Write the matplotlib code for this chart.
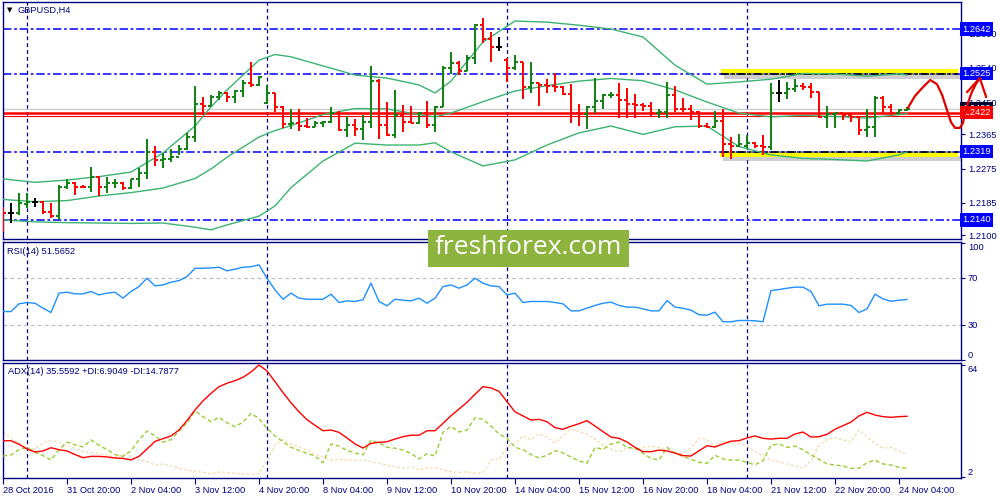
import numpy as np
import matplotlib.pyplot as plt
from matplotlib.patches import Rectangle

# GBPUSD H4 bars (bar 0 = first bar on the left)
opens = [1.2169, 1.2158, 1.2158, 1.2182, 1.2188, 1.2188, 1.2162, 1.2150, 1.2227, 1.2236,
         1.2227, 1.2226, 1.2254, 1.2227, 1.2236, 1.2238, 1.2223, 1.2249, 1.2263, 1.2319,
         1.2298, 1.2299, 1.2306, 1.2326, 1.2359, 1.2444, 1.2439, 1.2464, 1.2474, 1.2464,
         1.2480, 1.2501, 1.2495, 1.2447, 1.2474, 1.2438, 1.2391, 1.2394, 1.2387, 1.2384,
         1.2396, 1.2397, 1.2420, 1.2376, 1.2390, 1.2378, 1.2398, 1.2505, 1.2390, 1.2363,
         1.2416, 1.2398, 1.2396, 1.2420, 1.2390, 1.2438, 1.2539, 1.2553, 1.2532, 1.2565,
         1.2652, 1.2617, 1.2595, 1.2560, 1.2539, 1.2556, 1.2489, 1.2499, 1.2495, 1.2492,
         1.2489, 1.2471, 1.2420, 1.2418, 1.2436, 1.2453, 1.2468, 1.2469, 1.2455, 1.2445,
         1.2443, 1.2439, 1.2422, 1.2424, 1.2468, 1.2433, 1.2431, 1.2424, 1.2387, 1.2385,
         1.2401, 1.2340, 1.2334, 1.2335, 1.2343, 1.2335, 1.2332, 1.2474, 1.2474, 1.2483,
         1.2492, 1.2489, 1.2477, 1.2410, 1.2418, 1.2420, 1.2416, 1.2411, 1.2376, 1.2385,
         1.2460, 1.2436, 1.2420, 1.2429]
highs = [1.2175, 1.2184, 1.2211, 1.2212, 1.2197, 1.2190, 1.2184, 1.2232, 1.2249, 1.2240,
         1.2232, 1.2280, 1.2256, 1.2254, 1.2247, 1.2240, 1.2249, 1.2276, 1.2353, 1.2334,
         1.2315, 1.2326, 1.2337, 1.2368, 1.2492, 1.2462, 1.2468, 1.2480, 1.2477, 1.2482,
         1.2508, 1.2555, 1.2518, 1.2495, 1.2474, 1.2439, 1.2432, 1.2433, 1.2407, 1.2401,
         1.2401, 1.2436, 1.2427, 1.2414, 1.2405, 1.2416, 1.2545, 1.2510, 1.2451, 1.2482,
         1.2442, 1.2439, 1.2425, 1.2453, 1.2439, 1.2545, 1.2581, 1.2558, 1.2574, 1.2655,
         1.2670, 1.2635, 1.2620, 1.2567, 1.2574, 1.2556, 1.2556, 1.2499, 1.2510, 1.2527,
         1.2492, 1.2497, 1.2445, 1.2439, 1.2512, 1.2471, 1.2477, 1.2499, 1.2486, 1.2471,
         1.2447, 1.2451, 1.2433, 1.2502, 1.2492, 1.2460, 1.2442, 1.2426, 1.2394, 1.2427,
         1.2433, 1.2357, 1.2366, 1.2363, 1.2346, 1.2363, 1.2499, 1.2508, 1.2503, 1.2510,
         1.2499, 1.2501, 1.2477, 1.2439, 1.2422, 1.2420, 1.2420, 1.2411, 1.2433, 1.2466,
         1.2466, 1.2445, 1.2433, 1.2436]
lows = [1.2109, 1.2133, 1.2153, 1.2171, 1.2175, 1.2155, 1.2146, 1.2140, 1.2221, 1.2206,
        1.2223, 1.2213, 1.2203, 1.2210, 1.2223, 1.2219, 1.2221, 1.2227, 1.2249, 1.2283,
        1.2276, 1.2293, 1.2311, 1.2324, 1.2346, 1.2416, 1.2439, 1.2455, 1.2449, 1.2447,
        1.2464, 1.2489, 1.2492, 1.2445, 1.2424, 1.2381, 1.2378, 1.2375, 1.2381, 1.2384,
        1.2384, 1.2394, 1.2375, 1.2357, 1.2361, 1.2350, 1.2382, 1.2352, 1.2361, 1.2355,
        1.2372, 1.2394, 1.2392, 1.2381, 1.2372, 1.2436, 1.2524, 1.2521, 1.2532, 1.2550,
        1.2604, 1.2556, 1.2585, 1.2503, 1.2534, 1.2458, 1.2474, 1.2439, 1.2474, 1.2477,
        1.2468, 1.2394, 1.2387, 1.2378, 1.2422, 1.2433, 1.2460, 1.2407, 1.2407, 1.2407,
        1.2427, 1.2411, 1.2407, 1.2407, 1.2424, 1.2424, 1.2403, 1.2381, 1.2381, 1.2381,
        1.2305, 1.2299, 1.2333, 1.2328, 1.2328, 1.2311, 1.2324, 1.2451, 1.2457, 1.2477,
        1.2482, 1.2460, 1.2407, 1.2381, 1.2381, 1.2403, 1.2398, 1.2363, 1.2357, 1.2359,
        1.2418, 1.2416, 1.2420, 1.2427]
closes = [1.2158, 1.2158, 1.2185, 1.2188, 1.2188, 1.2162, 1.2150, 1.2227, 1.2236, 1.2227,
          1.2226, 1.2254, 1.2227, 1.2236, 1.2238, 1.2223, 1.2249, 1.2263, 1.2319, 1.2298,
          1.2299, 1.2306, 1.2326, 1.2359, 1.2444, 1.2439, 1.2464, 1.2474, 1.2464, 1.2480,
          1.2501, 1.2495, 1.2516, 1.2474, 1.2438, 1.2391, 1.2394, 1.2387, 1.2384, 1.2396,
          1.2397, 1.2420, 1.2376, 1.2390, 1.2378, 1.2398, 1.2505, 1.2390, 1.2363, 1.2416,
          1.2398, 1.2396, 1.2420, 1.2390, 1.2438, 1.2539, 1.2553, 1.2532, 1.2565, 1.2652,
          1.2617, 1.2595, 1.2595, 1.2539, 1.2556, 1.2489, 1.2499, 1.2495, 1.2492, 1.2489,
          1.2471, 1.2420, 1.2418, 1.2436, 1.2453, 1.2468, 1.2469, 1.2455, 1.2445, 1.2443,
          1.2439, 1.2422, 1.2424, 1.2468, 1.2433, 1.2431, 1.2424, 1.2387, 1.2385, 1.2401,
          1.2340, 1.2334, 1.2341, 1.2343, 1.2335, 1.2332, 1.2474, 1.2474, 1.2483, 1.2492,
          1.2489, 1.2477, 1.2410, 1.2418, 1.2420, 1.2416, 1.2411, 1.2376, 1.2385, 1.2460,
          1.2436, 1.2420, 1.2429, 1.2433]

# Bollinger bands, sampled at these bar positions
band_idx = [0, 4, 8, 12, 16, 20, 24, 26, 28, 32, 34, 36, 40, 44, 48, 52, 54, 56, 60, 64,
            68, 72, 76, 80, 84, 88, 92, 96, 100, 104, 108, 112, 113]
band_upper = [1.2248, 1.2239, 1.2245, 1.2254, 1.2266, 1.2316, 1.2387, 1.2437, 1.2482, 1.2560,
              1.2575, 1.2569, 1.2545, 1.2521, 1.2513, 1.2495, 1.2474, 1.2505, 1.2608, 1.2663,
              1.2660, 1.2652, 1.2642, 1.2621, 1.2547, 1.2497, 1.2503, 1.2510, 1.2525, 1.2524,
              1.2518, 1.2524, 1.2521]
band_mid = [1.2194, 1.2188, 1.2191, 1.2203, 1.2212, 1.2224, 1.2249, 1.2274, 1.2305, 1.2358,
            1.2375, 1.2388, 1.2417, 1.2433, 1.2432, 1.2417, 1.2411, 1.2421, 1.2451, 1.2479,
            1.2493, 1.2505, 1.2512, 1.2506, 1.2482, 1.2450, 1.2421, 1.2411, 1.2415, 1.2412,
            1.2408, 1.2417, 1.2420]
band_lower = [1.2140, 1.2135, 1.2133, 1.2132, 1.2131, 1.2132, 1.2121, 1.2114, 1.2127, 1.2150,
              1.2177, 1.2225, 1.2295, 1.2342, 1.2337, 1.2337, 1.2343, 1.2319, 1.2282, 1.2298,
              1.2337, 1.2369, 1.2387, 1.2365, 1.2385, 1.2387, 1.2333, 1.2311, 1.2302, 1.2299,
              1.2295, 1.2311, 1.2319]

rsi = [41.3, 41.3, 47.9, 49.0, 48.4, 44.2, 40.5, 57.0, 57.8, 56.4,
       56.4, 58.4, 55.5, 57.0, 57.8, 52.7, 58.4, 62.6, 69.7, 63.2,
       64.0, 66.3, 67.7, 71.1, 78.2, 78.2, 78.5, 79.1, 76.0, 77.4,
       79.1, 79.5, 81.1, 69.7, 59.8, 51.8, 57.0, 52.7, 51.8, 51.8,
       51.8, 56.1, 49.0, 50.4, 49.9, 51.3, 65.5, 49.9, 46.2, 51.8,
       51.0, 50.4, 52.7, 48.4, 52.7, 62.6, 64.0, 61.2, 64.0, 69.7,
       65.5, 63.2, 62.6, 55.5, 57.0, 49.0, 49.9, 49.9, 49.9, 49.0,
       47.9, 41.9, 41.9, 44.2, 46.5, 48.4, 49.3, 46.5, 45.1, 45.1,
       43.6, 41.9, 41.9, 50.7, 45.1, 44.1, 42.5, 38.6, 38.2, 40.8,
       32.6, 32.6, 33.7, 33.7, 33.4, 32.6, 59.2, 60.1, 61.2, 62.1,
       62.1, 58.4, 46.2, 47.6, 47.6, 47.6, 46.5, 40.5, 43.6, 56.1,
       52.1, 50.1, 51.0, 51.6]

adx = [22.1, 22.1, 20.1, 17.5, 15.8, 16.4, 18.2, 17.1, 16.4, 14.4,
       12.7, 13.4, 13.4, 13.1, 12.5, 12.3, 11.4, 13.4, 17.5, 21.7,
       23.2, 24.7, 28.0, 33.2, 39.1, 44.1, 48.3, 52.0, 53.9, 55.3,
       57.2, 60.1, 64.0, 60.7, 54.8, 48.7, 43.1, 38.1, 33.7, 30.6,
       27.6, 28.0, 26.7, 23.6, 20.3, 18.0, 20.6, 21.2, 21.5, 23.0,
       24.3, 25.1, 25.1, 27.6, 27.6, 31.7, 35.9, 39.6, 43.3, 47.8,
       52.0, 51.3, 49.4, 43.7, 38.1, 35.8, 33.5, 33.9, 32.6, 29.3,
       28.4, 30.1, 31.5, 33.2, 30.2, 27.1, 24.1, 23.4, 21.4, 18.4,
       16.0, 16.0, 16.9, 16.4, 15.3, 13.8, 13.6, 16.5, 19.3, 18.6,
       20.3, 21.8, 22.1, 23.6, 24.7, 23.4, 23.0, 23.4, 23.4, 25.8,
       26.9, 24.1, 24.3, 25.6, 28.4, 30.4, 32.4, 35.8, 37.8, 36.3,
       35.4, 35.0, 35.4, 35.6]
plus_di = [13.6, 14.2, 17.1, 18.4, 15.6, 13.8, 11.4, 17.1, 21.3, 19.8,
           18.6, 22.5, 19.6, 17.1, 14.4, 13.4, 16.5, 22.5, 27.4, 24.8,
           21.3, 22.6, 27.4, 32.0, 38.5, 35.4, 32.6, 35.0, 32.0, 29.8,
           32.4, 37.2, 34.3, 28.9, 24.7, 21.5, 18.4, 16.7, 15.1, 13.6,
           9.9, 20.3, 19.1, 16.7, 15.3, 14.2, 22.5, 20.8, 18.4, 17.9,
           16.9, 15.0, 12.0, 14.8, 13.6, 26.7, 30.0, 26.9, 28.0, 34.8,
           33.9, 30.2, 25.8, 23.4, 18.4, 17.1, 14.4, 12.5, 14.0, 16.5,
           15.4, 12.9, 11.0, 9.6, 18.4, 17.3, 20.3, 21.3, 18.4, 17.9,
           15.1, 12.3, 11.4, 18.4, 15.1, 13.4, 11.8, 10.1, 9.6, 14.0,
           12.0, 11.4, 11.4, 10.1, 8.8, 11.0, 19.6, 20.3, 18.4, 19.1,
           17.1, 14.2, 11.8, 9.2, 8.6, 8.1, 6.8, 6.8, 9.9, 11.4,
           9.2, 8.6, 7.3, 6.9]
minus_di = [27.1, 23.8, 20.9, 18.4, 17.3, 20.8, 22.3, 20.9, 19.1, 17.9,
            16.0, 15.4, 15.1, 14.2, 12.9, 14.6, 13.4, 11.4, 10.5, 8.6,
            9.2, 8.1, 6.8, 5.9, 5.3, 4.6, 3.8, 4.8, 4.4, 4.0,
            3.6, 3.3, 3.8, 11.4, 19.8, 22.8, 20.3, 18.4, 17.1, 14.4,
            13.4, 11.4, 11.8, 11.4, 11.0, 11.4, 10.5, 9.6, 8.6, 7.7,
            6.8, 7.7, 5.9, 6.8, 7.3, 5.9, 4.9, 4.4, 4.9, 4.0,
            4.4, 11.4, 11.8, 18.4, 20.6, 24.7, 22.6, 26.1, 23.8, 20.9,
            25.0, 28.5, 27.3, 25.5, 23.1, 19.8, 17.3, 16.0, 18.0, 17.3,
            18.4, 19.1, 18.4, 16.9, 14.6, 15.1, 18.0, 23.6, 22.8, 19.0,
            21.7, 21.1, 20.5, 19.0, 16.2, 13.8, 11.4, 10.5, 9.2, 8.1,
            6.8, 11.0, 19.6, 22.5, 23.8, 22.5, 21.5, 28.0, 24.3, 20.6,
            17.9, 18.4, 16.2, 14.8]

# horizontal levels and tags
blue_levels = [1.2642, 1.2525, 1.2319, 1.2140]
red_level = 1.2422
red_thin_level = 1.2414
bid_price = 1.2433
price_ticks = [1.2630, 1.2540, 1.2450, 1.2365, 1.2275, 1.2185, 1.2100]
separator_idx = [3, 33, 63, 93]
date_idx = [0, 8, 16, 24, 32, 40, 48, 56, 64, 72, 80, 88, 96, 104, 112]
date_labels = ['28 Oct 2016', '31 Oct 20:00', '2 Nov 04:00', '3 Nov 12:00', '4 Nov 20:00',
               '8 Nov 04:00', '9 Nov 12:00', '10 Nov 20:00', '14 Nov 04:00', '15 Nov 12:00',
               '16 Nov 20:00', '18 Nov 04:00', '21 Nov 12:00', '22 Nov 20:00', '24 Nov 04:00']
# range boxes drawn by hand (price bottom, price top, first bar, last bar)
range_boxes = [(1.2521, 1.2536, 89.75, 119.4), (1.2305, 1.2319, 89.6, 119.4)]
# freehand forecast squiggle (bar position, price)
squiggle_x = [113.1, 114.0, 114.9, 115.9, 116.75, 117.4, 118.0, 118.5, 119.0, 119.6,
              120.0, 120.25, 120.6, 121.1, 121.6, 122.1]
squiggle_y = [1.2434, 1.2466, 1.2487, 1.2508, 1.2497, 1.2468, 1.2429, 1.2397, 1.2382, 1.2382,
              1.2395, 1.2421, 1.2447, 1.2476, 1.2497, 1.2513]
arrow_x = [120.5, 122.1, 122.9]
arrow_y = [1.2476, 1.2513, 1.2463]

NAVY = '#000080'
GREEN = '#108010'
FONT = 'Liberation Sans'
FS = 6.7
plt.rcParams['font.family'] = FONT

fig = plt.figure(figsize=(10, 5), dpi=100)
fig.patch.set_facecolor('white')


def px_axes(x0, y0, x1, y1):
    return fig.add_axes([x0 / 1000, 1 - y1 / 500, (x1 - x0) / 1000, (y1 - y0) / 500])


ax = px_axes(3, 2, 961, 239)
ax_rsi = px_axes(3, 242, 961, 360)
ax_adx = px_axes(3, 363, 961, 478)

nbars = len(closes)
idx = np.arange(nbars)
for a in (ax, ax_rsi, ax_adx):
    a.set_xlim(0, 119.75)
    for s in a.spines.values():
        s.set_color(NAVY)
        s.set_linewidth(1)
    a.yaxis.tick_right()
    a.tick_params(axis='y', colors=NAVY, length=3, width=0.8, pad=2, labelsize=FS)
    a.tick_params(axis='x', length=0)
    a.set_xticks([])
    for s in separator_idx:
        a.axvline(s, color=NAVY, lw=0.9, ls=(0, (3, 2.5)), zorder=1)

# ---- main price panel
ax.set_ylim(1.2090, 1.2713)
ax.set_yticks(price_ticks)
ax.set_yticklabels(['%.4f' % t for t in price_ticks])

for lv in blue_levels:
    ax.axhline(lv, color='#0000ff', lw=1.1, ls=(0, (5.5, 1.8, 1.8, 1.8)), zorder=2)
ax.axhline(bid_price, color='#d0d0d0', lw=1, zorder=2)
ax.axhline(red_level, color='#ff0000', lw=1.8, zorder=2)
ax.axhline(red_thin_level, color='#ff0000', lw=0.8, zorder=2)

for lo, hi, x0, x1 in range_boxes:
    ax.add_patch(Rectangle((x0 + 0.4, lo - 0.0011), x1 - x0, hi - lo, fc='#909090',
                           ec='none', alpha=0.45, zorder=1.5, clip_on=False))
    ax.add_patch(Rectangle((x0, lo), x1 - x0, hi - lo, fc='#ffff00', ec='none',
                           zorder=1.8, clip_on=False))
ax.hlines([1.2525, 1.2319], 89.7, 119.4, colors='black', lw=1.1,
          linestyles=[(0, (5.5, 1.8, 1.8, 1.8))], zorder=2.1)

ax.plot(band_idx, band_upper, color='#3cb371', lw=1, zorder=3)
ax.plot(band_idx, band_mid, color='#3cb371', lw=1, zorder=3)
ax.plot(band_idx, band_lower, color='#3cb371', lw=1, zorder=3)

cols = [GREEN if c > o else '#ff0000' if c < o else '#000000' for o, c in zip(opens, closes)]
ax.vlines(idx, lows, highs, colors=cols, lw=1.4, zorder=4)
ax.hlines(opens, idx - 0.4, idx, colors=cols, lw=1.4, zorder=4)
ax.hlines(closes, idx, idx + 0.4, colors=cols, lw=1.4, zorder=4)

ytr = ax.get_yaxis_transform()
for lv in blue_levels:
    ax.text(1.0012, lv, '%.4f' % lv, transform=ytr, color='white', fontsize=FS,
            va='center', ha='left', zorder=10, clip_on=False,
            bbox=dict(boxstyle='square,pad=0.22', fc='#0000ff', ec='none'))
ax.text(1.0012, bid_price, '%.4f' % bid_price, transform=ytr, color='white', fontsize=FS,
        va='center', ha='left', zorder=10, clip_on=False,
        bbox=dict(boxstyle='square,pad=0.22', fc='#000030', ec='none'))
ax.text(1.0012, red_level, '%.4f' % red_level, transform=ytr, color='white', fontsize=FS,
        va='center', ha='left', zorder=11, clip_on=False,
        bbox=dict(boxstyle='square,pad=0.22', fc='#ff0000', ec='none'))

ax.plot(squiggle_x, squiggle_y, color='#e00000', lw=1.6, zorder=12, clip_on=False,
        solid_capstyle='round', solid_joinstyle='round')
ax.plot(arrow_x, arrow_y, color='#e00000', lw=1.6, zorder=12, clip_on=False,
        solid_capstyle='round')

fig.text(0.007, 1 - 10 / 500, '\u25bc', fontsize=5, color='black', va='center',
         family='DejaVu Sans')
fig.text(0.018, 1 - 10 / 500, 'GBPUSD,H4', fontsize=FS, color=NAVY, va='center')

# ---- RSI panel
ax_rsi.set_ylim(0.2, 100.6)
ax_rsi.set_yticks([0, 30, 70, 100])
ax_rsi.set_yticklabels(['0', '30', '70', '100'])
lbls = ax_rsi.get_yticklabels()
lbls[0].set_va('bottom')
lbls[3].set_va('top')
for lv in (30, 70):
    ax_rsi.axhline(lv, color='#c0c0c0', lw=0.9, ls=(0, (3, 2.5)), zorder=1)
ax_rsi.plot(idx, rsi, color='#1e90ff', lw=1, zorder=3)
fig.text(0.007, 1 - 252 / 500, 'RSI(14) 51.5652', fontsize=FS, color=NAVY, va='center')

# ---- ADX panel
ax_adx.set_ylim(1.43, 65.1)
ax_adx.set_yticks([2, 64])
ax_adx.set_yticklabels(['2', '64'])
lbls = ax_adx.get_yticklabels()
lbls[0].set_va('bottom')
lbls[1].set_va('top')
ax_adx.plot(idx, minus_di, color='#f5deb3', lw=1, ls=(0, (2, 1.5)), zorder=2)
ax_adx.plot(idx, plus_di, color='#9acd32', lw=1, ls=(0, (3, 2)), zorder=3)
ax_adx.plot(idx, adx, color='#ff0000', lw=1, zorder=4)
fig.text(0.008, 1 - 372 / 500, 'ADX(14) 35.5592 +DI:6.9049 -DI:14.7877', fontsize=FS,
         color=NAVY, va='center')

ax_adx.set_xticks(date_idx)
ax_adx.set_xticklabels(date_labels)
ax_adx.tick_params(axis='x', colors=NAVY, length=4, width=0.8, pad=2, labelsize=FS)
for lb in ax_adx.get_xticklabels():
    lb.set_ha('left')

# ---- watermark
fig.patches.append(Rectangle((428 / 1000, 1 - 267 / 500), 201 / 1000, 37 / 500,
                             transform=fig.transFigure, fc='#8cb43e', ec='none', zorder=20))
fig.text(528.5 / 1000, 1 - 248 / 500, 'freshforex.com', fontsize=19, color='white',
         ha='center', va='center', family='Open Sans', zorder=21)

fig.savefig('out.png', dpi=100)
